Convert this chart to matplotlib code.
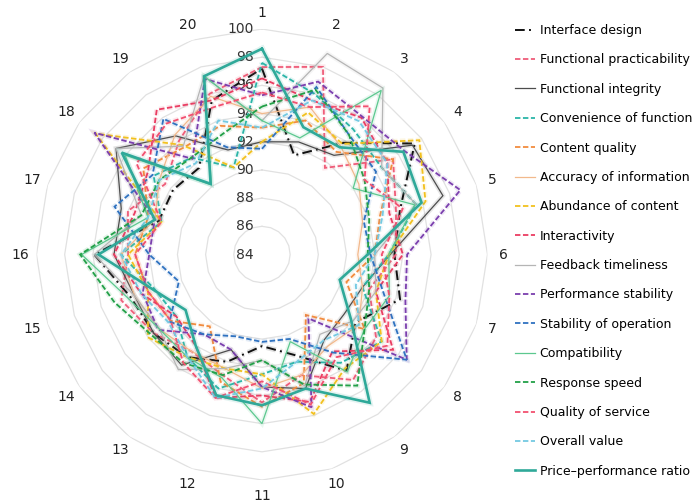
import numpy as np
import matplotlib
matplotlib.use("Agg")
import matplotlib.pyplot as plt
import matplotlib.patheffects as pe
from matplotlib.lines import Line2D
from matplotlib.transforms import offset_copy

# evaluation indicators 1..20, scores per service dimension
indicators = [str(i) for i in range(1, 21)]
ring_levels = [84, 86, 88, 90, 92, 94, 96, 98, 100]

interface_design = [97.2, 91.4, 93.8, 97.4, 94.3, 93.4, 94.3, 92.2, 94.2, 91.5, 90.5, 92.0, 93.0, 93.5, 93.8, 95.9, 91.7, 91.8, 91.6, 95.5]
functional_practicability = [97.3, 98.0, 91.6, 95.5, 94.0, 93.5, 92.0, 94.0, 95.0, 93.0, 94.5, 93.0, 92.5, 93.5, 94.5, 93.5, 94.0, 92.5, 94.0, 96.0]
functional_integrity = [92.0, 92.4, 92.7, 97.2, 97.5, 93.1, 91.5, 91.2, 91.5, 94.0, 93.4, 91.1, 93.7, 93.5, 93.5, 94.5, 94.5, 96.8, 94.4, 91.8]
convenience_of_function = [97.6, 96.0, 95.0, 94.5, 95.5, 93.0, 91.5, 94.5, 93.5, 92.0, 92.5, 94.0, 93.0, 91.5, 92.0, 94.0, 91.5, 93.5, 92.5, 90.5]
content_quality = [93.0, 94.0, 93.0, 95.5, 92.8, 92.0, 90.3, 93.0, 89.3, 93.6, 94.8, 93.5, 90.3, 92.0, 92.5, 93.0, 92.5, 94.4, 93.4, 93.6]
accuracy_of_information = [94.0, 95.0, 93.5, 92.5, 91.5, 90.8, 91.5, 92.5, 92.0, 93.0, 93.5, 92.5, 92.5, 93.0, 93.5, 94.0, 92.0, 93.0, 94.5, 95.8]
abundance_of_content = [92.0, 94.6, 93.7, 97.8, 96.2, 93.0, 92.5, 94.5, 94.0, 95.9, 92.5, 92.5, 93.0, 94.0, 92.5, 93.5, 91.5, 98.6, 93.6, 90.5]
interactivity = [96.5, 95.5, 96.0, 95.0, 93.5, 94.0, 92.5, 95.5, 92.5, 95.0, 94.0, 94.7, 92.0, 91.5, 93.0, 94.5, 93.5, 94.0, 96.7, 95.5]
feedback_timeliness = [93.5, 99.0, 98.6, 94.5, 95.5, 92.0, 92.5, 92.0, 91.0, 93.8, 91.5, 92.5, 94.1, 93.0, 93.5, 95.9, 93.0, 96.8, 93.5, 97.3]
performance_stability = [95.3, 96.9, 96.1, 96.5, 98.8, 94.3, 94.7, 96.7, 89.6, 95.4, 93.4, 91.1, 91.0, 93.1, 92.9, 92.0, 92.0, 98.7, 92.4, 97.1]
stability_of_operation = [91.5, 96.5, 94.5, 94.0, 91.6, 91.7, 93.1, 96.7, 92.6, 90.3, 90.2, 90.1, 91.0, 92.1, 90.2, 92.0, 95.0, 93.6, 95.9, 92.0]
compatibility = [93.5, 92.7, 98.4, 92.0, 95.4, 93.0, 93.5, 93.0, 94.3, 90.5, 96.0, 93.2, 93.0, 93.0, 94.0, 96.8, 92.5, 96.0, 90.1, 97.3]
response_speed = [94.5, 96.3, 94.5, 93.0, 92.0, 91.5, 92.0, 93.0, 95.5, 93.7, 91.5, 93.0, 93.5, 93.7, 95.0, 96.9, 93.0, 93.0, 92.5, 93.0]
quality_of_service = [95.5, 95.0, 97.0, 93.0, 94.5, 92.5, 93.5, 95.0, 93.0, 95.2, 93.0, 94.7, 93.5, 92.0, 92.5, 93.0, 91.5, 95.0, 95.5, 95.0]
overall_value = [93.0, 95.5, 95.7, 95.0, 93.0, 92.0, 91.0, 92.5, 91.5, 92.0, 93.5, 94.7, 93.0, 92.2, 93.0, 94.0, 92.5, 93.0, 92.0, 94.0]
price_performance_ratio = [98.6, 93.5, 93.4, 96.4, 95.9, 91.5, 89.8, 91.8, 97.0, 94.0, 94.7, 94.5, 92.0, 90.7, 92.1, 95.6, 92.0, 96.3, 90.2, 97.3]

DASH = (3, 1.4)
DASHDOT = (5, 2.2, 1, 2.2)

# name, values, colour, linewidth, dash pattern (None = solid)
series = [
    ("Interface design", interface_design, "#111111", 1.4, DASHDOT),
    ("Functional practicability", functional_practicability, "#ef5d79", 1.3, DASH),
    ("Functional integrity", functional_integrity, "#4d4d4d", 0.9, None),
    ("Convenience of function", convenience_of_function, "#2bb5a8", 1.3, DASH),
    ("Content quality", content_quality, "#f28c3f", 1.3, DASH),
    ("Accuracy of information", accuracy_of_information, "#f2b98c", 0.9, None),
    ("Abundance of content", abundance_of_content, "#f2c11f", 1.3, DASH),
    ("Interactivity", interactivity, "#ea3d62", 1.3, DASH),
    ("Feedback timeliness", feedback_timeliness, "#b5b5b5", 0.9, None),
    ("Performance stability", performance_stability, "#7b3fae", 1.3, DASH),
    ("Stability of operation", stability_of_operation, "#2f72c0", 1.3, DASH),
    ("Compatibility", compatibility, "#5cc88f", 0.9, None),
    ("Response speed", response_speed, "#22a048", 1.3, DASH),
    ("Quality of service", quality_of_service, "#f2506f", 1.3, DASH),
    ("Overall value", overall_value, "#74c9e2", 1.3, DASH),
    ("Price\u2013performance ratio", price_performance_ratio, "#2fa999", 1.9, None),
]

plt.rcParams["font.family"] = ["DejaVu Sans"]

fig = plt.figure(figsize=(6.96, 5.03), dpi=100)
ax = fig.add_axes([0.0524, 0.0457, 0.648, 0.8966], projection="polar")
ax.set_theta_offset(np.pi / 2)
ax.set_theta_direction(-1)
ax.set_ylim(84, 100)
ax.set_xticks([])
ax.set_yticks([])
ax.grid(False)
ax.spines["polar"].set_visible(False)

n = len(indicators)
angles = np.linspace(0, 2 * np.pi, n, endpoint=False)
closed = np.concatenate([angles, angles[:1]])

# polygonal gridlines
for lvl in ring_levels[1:]:
    ax.plot(closed, [lvl] * (n + 1), color="#e1e1e1", lw=0.9, zorder=1)

for name, vals, col, lw, dash in series:
    v = list(vals) + [vals[0]]
    kw = dict(color=col, lw=lw, label=name, zorder=3,
              solid_joinstyle="miter", dash_joinstyle="miter")
    line, = ax.plot(closed, v, **kw)
    if dash is not None:
        line.set_dashes(dash)
    line.set_path_effects([pe.Stroke(linewidth=lw + 2.4, foreground=col, alpha=0.13),
                           pe.Normal()])

# indicator labels around the outside
for ang, lab in zip(angles, indicators):
    ax.text(ang, 101.15, lab, ha="center", va="center", fontsize=10,
            color="#222222", clip_on=False)

# radial value labels along the top axis
tr = offset_copy(ax.transData, fig=fig, x=-8, y=0, units="dots")
for lvl in ring_levels:
    ax.text(0, lvl, str(lvl), transform=tr, ha="right", va="center",
            fontsize=10, color="#333333", zorder=2)

handles = []
for name, vals, col, lw, dash in series:
    h = Line2D([0], [0], color=col, lw=lw)
    if dash is not None:
        h.set_dashes(dash)
    handles.append(h)

fig.legend(handles, [s[0] for s in series], loc="upper left",
           bbox_to_anchor=(0.733, 0.962), frameon=False, fontsize=9.0,
           handlelength=1.6, handletextpad=0.35, labelspacing=1.31,
           borderaxespad=0)

fig.savefig("out.png", dpi=100)
